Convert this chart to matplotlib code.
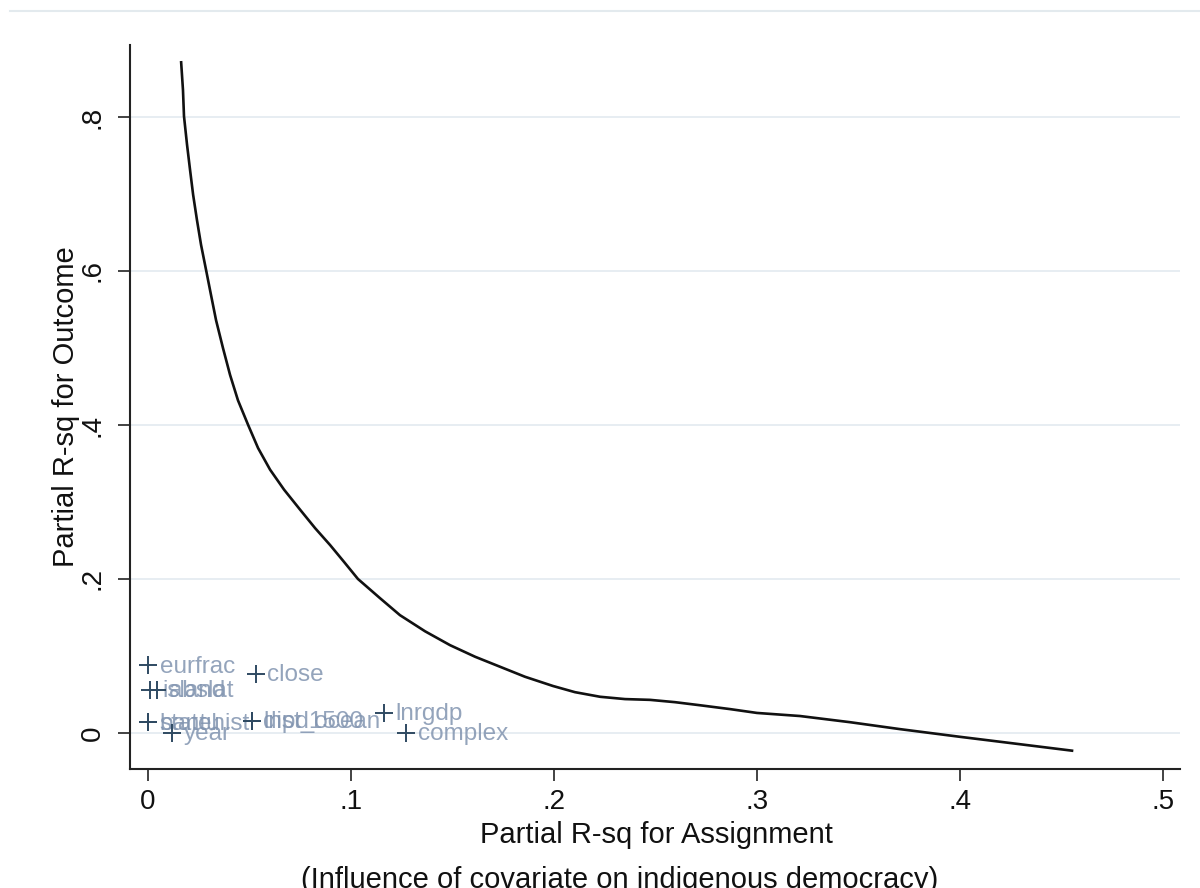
import matplotlib.pyplot as plt
from matplotlib.lines import Line2D

plt.rcParams['font.family'] = ['Liberation Sans', 'DejaVu Sans']

# sensitivity contour
curve_x = [0.0163, 0.0172, 0.0177, 0.0192, 0.0207, 0.0222, 0.0241, 0.0261, 0.0286,
           0.0310, 0.0335, 0.0369, 0.0404, 0.0443, 0.0493, 0.0542, 0.0601, 0.0670,
           0.0749, 0.0823, 0.0897, 0.0966, 0.1034, 0.1143, 0.1241, 0.1365, 0.1488,
           0.1611, 0.1734, 0.1857, 0.1995, 0.2103, 0.2227, 0.2350, 0.2473, 0.2596,
           0.2719, 0.2867, 0.3000, 0.3212, 0.3458, 0.3704, 0.4000, 0.4246, 0.4552]
curve_y = [0.871, 0.835, 0.801, 0.764, 0.731, 0.699, 0.666, 0.634, 0.601,
           0.569, 0.536, 0.500, 0.465, 0.432, 0.400, 0.370, 0.342, 0.316,
           0.290, 0.266, 0.244, 0.222, 0.200, 0.175, 0.153, 0.132, 0.114,
           0.099, 0.086, 0.073, 0.061, 0.053, 0.047, 0.044, 0.043, 0.040,
           0.036, 0.031, 0.026, 0.022, 0.014, 0.005, -0.005, -0.013, -0.023]

# covariates
cov_names = ["eurfrac", "close", "island", "abslat", "statehist", "bantu",
             "lnpd1500", "dist_ocean", "lnrgdp", "year", "complex"]
cov_x = [0.000, 0.053, 0.001, 0.0045, 0.000, 0.000, 0.051, 0.051, 0.116, 0.012, 0.127]
cov_y = [0.088, 0.077, 0.056, 0.056, 0.014, 0.014, 0.016, 0.016, 0.026, 0.000, 0.000]

xticks = [0, 0.1, 0.2, 0.3, 0.4, 0.5]
xtick_labels = ["0", ".1", ".2", ".3", ".4", ".5"]
yticks = [0, 0.2, 0.4, 0.6, 0.8]
ytick_labels = ["0", ".2", ".4", ".6", ".8"]

W, H = 1200, 888
fig = plt.figure(figsize=(12, 8.88), dpi=100)
ax = fig.add_axes([130 / W, 1 - 769 / H, 1050 / W, (769 - 45) / H])
ax.set_xlim(-0.0089, 0.5084)
ax.set_ylim(-0.0468, 0.8935)

ax.plot(curve_x, curve_y, color='#111111', lw=1.9, zorder=3)

ax.scatter(cov_x, cov_y, marker='+', s=150, color='#2f4a62', linewidths=1.4, zorder=4)
for name, x, y in zip(cov_names, cov_x, cov_y):
    ax.annotate(name, (x, y), xytext=(8.5, -1), textcoords='offset points',
                va='center', ha='left', fontsize=17.5, color='#8194b0', alpha=0.85)

ax.set_xticks(xticks)
ax.set_xticklabels(xtick_labels)
ax.set_yticks(yticks)
ax.set_yticklabels(ytick_labels, rotation=90, va='center')
ax.tick_params(axis='both', length=8.5, width=1.2, color='#222222',
               labelsize=20, labelcolor='#111111')
ax.tick_params(axis='x', pad=6)
ax.tick_params(axis='y', pad=9)

ax.grid(axis='y', color='#e5ecf1', lw=1.3)
ax.set_axisbelow(True)
for s in ['top', 'right']:
    ax.spines[s].set_visible(False)
for s in ['left', 'bottom']:
    ax.spines[s].set_linewidth(1.5)
    ax.spines[s].set_color('#222222')

ax.set_ylabel("Partial R-sq for Outcome", fontsize=21, color='#111111', labelpad=0)
fig.text(656 / W, 1 - 835 / H, "Partial R-sq for Assignment", fontsize=21,
         ha='center', va='center', color='#111111')
fig.text(620 / W, 1 - 880 / H, "(Influence of covariate on indigenous democracy)",
         fontsize=21, ha='center', va='center', color='#111111')

# light frame line at the top of the graph region
fig.add_artist(Line2D([10 / W, 1.0], [1 - 11 / H, 1 - 11 / H], color='#e3eaee', lw=1.5))

fig.savefig('out.png', dpi=100)
